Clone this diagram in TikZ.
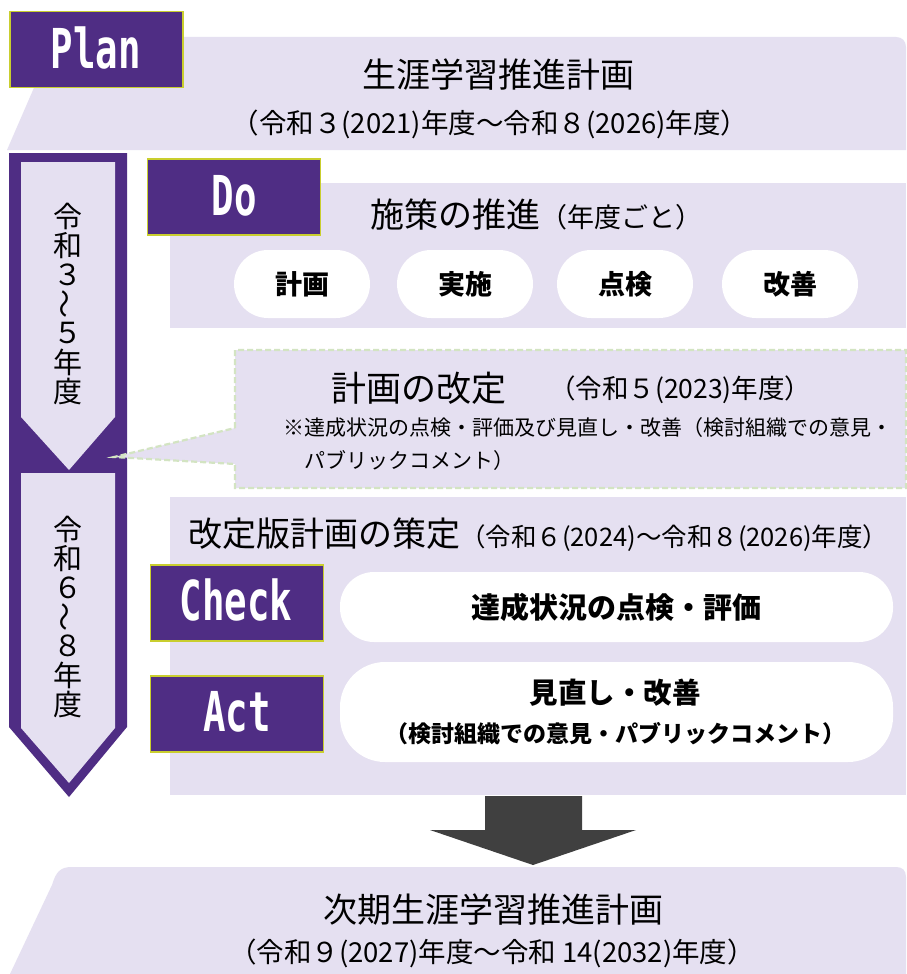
\documentclass[tikz,border=0pt]{standalone}
\usepackage{fontspec}
\setmainfont{Noto Sans CJK JP}
\newfontfamily\monofam{DejaVu Sans Mono}
\usepackage{graphicx}
\newcommand{\myfs}[1]{\fontsize{#1}{#1}\selectfont}
\definecolor{lav}{HTML}{E5E0F1}
\definecolor{purp}{HTML}{4F2D84}
\definecolor{ygreen}{HTML}{C9CE2E}
\definecolor{dgreen}{HTML}{D3E4C2}
\definecolor{darkarr}{HTML}{404040}
\tikzset{
  region/.style={fill=lav, draw=none},
  pdca/.style={fill=purp, draw=ygreen, line width=1.3pt, minimum width=173pt, minimum height=76pt, inner sep=0pt},
  pdcatext/.style={text=white, inner sep=0pt, anchor=base, font=\monofam\bfseries\myfs{55}},
  pill/.style={fill=white, draw=none, rounded corners=34pt, minimum width=136pt, minimum height=68pt, inner sep=0pt, font=\bfseries\myfs{27}},
  bigpill/.style={fill=white, draw=none, inner sep=0pt},
  txt/.style={inner sep=0pt, text=black},
  vtxt/.style={inner sep=0pt, text=black, font=\myfs{29}},
}
\begin{document}
\begin{tikzpicture}[x=1pt,y=-1pt]
\useasboundingbox (0,0) rectangle (906,974);
\fill[white] (0,0) rectangle (906,974);

% Plan region
\fill[region] (7,150) -- (56,37) -- (896,37) .. controls (902,37) and (906,41) .. (906,47) -- (906,150) -- cycle;
\node[pdca] (plan) at (96.5,49.5) {};
\node[pdcatext] (plant) at (96,68) {\scalebox{0.68}[1]{Plan}};
\node[txt, font=\myfs{34}] (plantitle) at (498,75) {生涯学習推進計画};
\node[txt, font=\myfs{27.5}] (plansub) at (490,124) {（令和３(2021)年度～令和８(2026)年度）};

% left arrow column
\fill[purp] (9,153) -- (127,153) -- (127,727) -- (69,797) -- (9,727) -- cycle;
\fill[lav] (21,162) -- (115,162) -- (115,417) -- (69,470) -- (21,417) -- cycle;
\fill[lav] (21,473) -- (115,473) -- (115,728) -- (69,783) -- (21,728) -- cycle;
\foreach \c [count=\i from 0] in {令,和,３,\rotatebox{90}{～},５,年,度}
  \node[vtxt] (va\i) at (68,{216+29.2*\i}) {\c};
\foreach \c [count=\i from 0] in {令,和,６,\rotatebox{90}{～},８,年,度}
  \node[vtxt] (vb\i) at (68,{529+29.2*\i}) {\c};

% Do region
\fill[region] (170,183) rectangle (906,328);
\node[pdca] (do) at (234,197) {};
\node[pdcatext] (dot) at (234,215) {\scalebox{0.68}[1]{Do}};
\node[txt, anchor=west] (dotitle) at (370,215) {\myfs{34}施策の推進\myfs{27}（年度ごと）};
\node[pill] (p1) at (302,284) {計画};
\node[pill] (p2) at (465,284) {実施};
\node[pill] (p3) at (625,284) {点検};
\node[pill] (p4) at (790,284) {改善};

% callout (revision)
\draw[fill=lav, draw=dgreen, line width=2.2pt, dash pattern=on 6pt off 3pt]
  (235,428) -- (235,350) -- (906,350) -- (906,488) -- (235,488) -- (235,464) -- (114,457) -- cycle;
\node[txt, anchor=west, font=\myfs{35}] (revtitle) at (331,388) {計画の改定};
\node[txt, anchor=west, font=\myfs{26.5}] (revyear) at (549,390) {（令和５(2023)年度）};
\node[txt, anchor=west, font=\myfs{21}] (revnote1) at (283,428) {※達成状況の点検・評価及び見直し・改善（検討組織での意見・};
\node[txt, anchor=west, font=\myfs{21}] (revnote2) at (304,461) {パブリックコメント）};

% revised plan region
\fill[region] (170,497) rectangle (906,795);
\node[txt, anchor=west] (newtitle) at (188,535) {\myfs{34}改定版計画の策定\myfs{25.5}（令和６(2024)～令和８(2026)年度）};
\node[pdca] (check) at (237,603) {};
\node[pdcatext] (checkt) at (236,620) {\scalebox{0.68}[1]{Check}};
\node[pdca] (act) at (237,714) {};
\node[pdcatext] (actt) at (237,731) {\scalebox{0.68}[1]{Act}};
\node[bigpill, rounded corners=34pt, minimum width=553pt, minimum height=70pt, font=\bfseries\myfs{29}] (cpill) at (616.5,607) {達成状況の点検・評価};
\node[bigpill, rounded corners=45pt, minimum width=553pt, minimum height=100pt] (apill) at (616.5,712) {};
\node[txt, font=\bfseries\myfs{28.5}] (at1) at (615,693) {見直し・改善};
\node[txt, font=\bfseries\myfs{23}] (at2) at (615,734) {（検討組織での意見・パブリックコメント）};

% dark arrow
\fill[darkarr] (485,796) -- (582,796) -- (582,830) -- (636,830) -- (533,865) -- (430,830) -- (485,830) -- cycle;

% next plan region
\fill[region] (10,974) -- (52,885) .. controls (56,872) and (60,867) .. (72,867) -- (896,867) .. controls (902,867) and (906,870) .. (906,877) -- (906,974) -- cycle;
\node[txt, font=\myfs{34}] (nexttitle) at (493,910) {次期生涯学習推進計画};
\node[txt, font=\myfs{27.5}] (nextsub) at (492,953) {（令和９(2027)年度～令和 14(2032)年度）};
\end{tikzpicture}
\end{document}
